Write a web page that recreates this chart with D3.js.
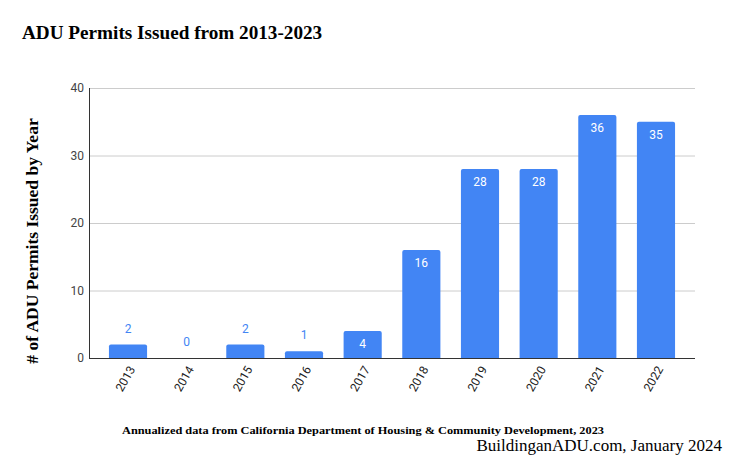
<!DOCTYPE html>
<html><head><meta charset="utf-8">
<script src="https://cdn.jsdelivr.net/npm/d3@7"></script>
<style>body{margin:0;background:#fff}</style>
</head><body>
<svg id="c" width="738" height="456"></svg>
<script>
const years = ["2013","2014","2015","2016","2017","2018","2019","2020","2021","2022"];
const permits = [2,0,2,1,4,16,28,28,36,35];
const yTicks = [0,10,20,30,40];

const svg = d3.select("#c");
const L=89, R=695, T=88, B=358;
const x = d3.scaleBand().domain(years).range([L,R]).paddingInner(0.35).paddingOuter(0.34);
const y = d3.scaleLinear().domain([0,40]).range([B,T]);

svg.append("rect").attr("width",738).attr("height",456).attr("fill","#fff");

svg.append("g").selectAll("line").data(yTicks.filter(d=>d>0)).join("line")
  .attr("x1",L).attr("x2",R).attr("y1",d=>y(d)+0.5).attr("y2",d=>y(d)+0.5)
  .attr("stroke","#cccccc").attr("stroke-width",1);

const yAxis = d3.axisLeft(y).tickValues(yTicks).tickSize(0).tickPadding(5);
const ya = svg.append("g").attr("transform",`translate(${L},0)`).call(yAxis);
ya.select(".domain").remove();
ya.selectAll("text").attr("font-family","Roboto, Arial, sans-serif").attr("font-size",12).attr("fill","#444");

const r = 2;
svg.append("g").selectAll("path").data(years).join("path")
  .attr("fill","#4285f4")
  .attr("d",(d,i)=>{
    const v = permits[i]; if(!v) return "";
    const x0=x(d), w=x.bandwidth(), y0=y(v), h=B-y0;
    const rr=Math.min(r,h);
    return `M${x0},${B}V${y0+rr}Q${x0},${y0} ${x0+rr},${y0}H${x0+w-rr}Q${x0+w},${y0} ${x0+w},${y0+rr}V${B}Z`;
  });

svg.append("g").selectAll("text").data(years).join("text")
  .attr("x",d=>x(d)+x.bandwidth()/2)
  .attr("y",(d,i)=> permits[i]>=4 ? y(permits[i])+17 : y(permits[i])-12)
  .attr("text-anchor","middle")
  .attr("font-family","Roboto, Arial, sans-serif").attr("font-size",12)
  .attr("fill",(d,i)=> permits[i]>=4 ? "#ffffff" : "#4285f4")
  .text((d,i)=>permits[i]);

svg.append("line").attr("x1",L).attr("x2",R).attr("y1",B+0.5).attr("y2",B+0.5).attr("stroke","#333").attr("stroke-width",1);
svg.append("line").attr("x1",L+0.5).attr("x2",L+0.5).attr("y1",T).attr("y2",B).attr("stroke","#333").attr("stroke-width",1);

const xAxis = d3.axisBottom(x).tickSize(0).tickPadding(0);
const xa = svg.append("g").attr("transform",`translate(0,${B})`).call(xAxis);
xa.select(".domain").remove();
xa.selectAll("text")
  .attr("font-family","Roboto, Arial, sans-serif").attr("font-size",12).attr("fill","#222")
  .attr("text-anchor","end").attr("dy","0.35em")
  .attr("transform","translate(4,9) rotate(-60)");

svg.append("text").attr("x",22).attr("y",39)
  .attr("font-family","'Liberation Serif', 'Times New Roman', serif").attr("font-weight","bold")
  .attr("font-size",19.2).attr("fill","#000").text("ADU Permits Issued from 2013-2023");

svg.append("text").attr("transform","translate(38,241) rotate(-90)").attr("text-anchor","middle")
  .attr("font-family","'Liberation Serif', 'Times New Roman', serif").attr("font-weight","bold")
  .attr("font-size",17.5).attr("fill","#000").text("# of ADU Permits Issued by Year");

svg.append("text").attr("x",122).attr("y",434)
  .attr("font-family","'Liberation Serif', 'Times New Roman', serif").attr("font-weight","bold")
  .attr("font-size",10).attr("fill","#000")
  .attr("textLength",482).attr("lengthAdjust","spacingAndGlyphs")
  .text("Annualized data from California Department of Housing & Community Development, 2023");
svg.append("text").attr("x",722).attr("y",451).attr("text-anchor","end")
  .attr("font-family","'Liberation Serif', 'Times New Roman', serif")
  .attr("font-size",17).attr("fill","#000").text("BuildinganADU.com, January 2024");
</script>
</body></html>
